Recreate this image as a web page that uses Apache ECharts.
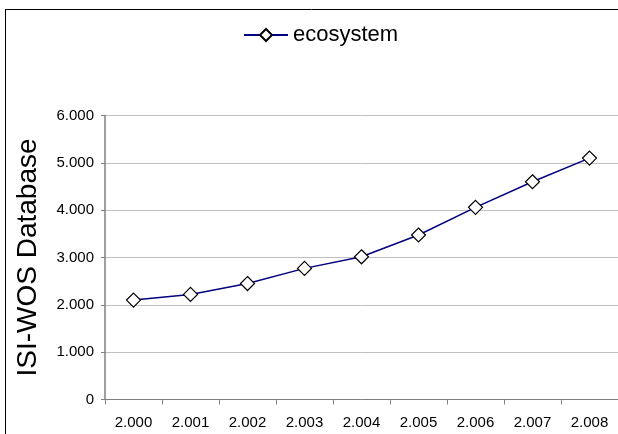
<!DOCTYPE html>
<html><head><meta charset="utf-8">
<script src="https://cdn.jsdelivr.net/npm/echarts@6/dist/echarts.min.js"></script>
<style>html,body{margin:0;padding:0;background:#fff}#c{width:618px;height:434px}</style>
</head><body><div id="c"></div>
<script>
const categories = ['2.000','2.001','2.002','2.003','2.004','2.005','2.006','2.007','2.008'];
const ecosystem = [2100, 2220, 2450, 2770, 3015, 3475, 4060, 4600, 5100];
const seriesName = 'ecosystem';
const yAxisTitle = 'ISI-WOS Database';

function fmt(v){ return String(v).replace(/\B(?=(\d{3})+(?!\d))/g, '.'); }

const chart = echarts.init(document.getElementById('c'), null, {renderer:'canvas'});
chart.setOption({
  animation: false,
  backgroundColor: '#fff',
  textStyle: { fontFamily: 'Liberation Sans, Arial, sans-serif' },
  graphic: [
    { type: 'line', z: 100, silent: true, shape: { x1: 5.5, y1: 9, x2: 5.5, y2: 434 },
      style: { stroke: '#000', lineWidth: 1 } },
    { type: 'line', z: 100, silent: true, shape: { x1: 5, y1: 9.5, x2: 618, y2: 9.5 },
      style: { stroke: '#000', lineWidth: 1 } }
  ],
  legend: {
    top: 24, left: 243, padding: 0,
    itemWidth: 44, itemHeight: 15, itemGap: 6,
    textStyle: { fontSize: 22, color: '#000', fontFamily: 'Liberation Sans, Arial, sans-serif' },
    data: [seriesName]
  },
  grid: { left: 105, top: 115.5, width: 514, bottom: 34.5, containLabel: false },
  xAxis: {
    type: 'category', data: categories, boundaryGap: true,
    axisLine: { lineStyle: { color: '#808080', width: 1 } },
    axisTick: { show: true, length: 5, lineStyle: { color: '#808080' } },
    axisLabel: { color: '#000', fontSize: 15, margin: 16, interval: 0 },
    splitLine: { show: false }
  },
  yAxis: {
    type: 'value', min: 0, max: 6000, interval: 1000,
    name: yAxisTitle, nameLocation: 'middle', nameGap: 63,
    nameTextStyle: { fontSize: 28, color: '#000' },
    axisLine: { show: true, lineStyle: { color: '#808080', width: 1.5 } },
    axisTick: { show: true, length: 4, lineStyle: { color: '#808080' } },
    axisLabel: { color: '#000', fontSize: 15, margin: 11, formatter: fmt },
    splitLine: { show: true, lineStyle: { color: '#c0c0c0', width: 1 } }
  },
  series: [{
    name: seriesName, type: 'line', data: ecosystem,
    symbol: 'diamond', symbolSize: 14,
    lineStyle: { color: '#000080', width: 1.5 },
    itemStyle: { color: '#fff', borderColor: '#000', borderWidth: 1.2 },
    emphasis: { disabled: true }
  }]
});
</script></body></html>
